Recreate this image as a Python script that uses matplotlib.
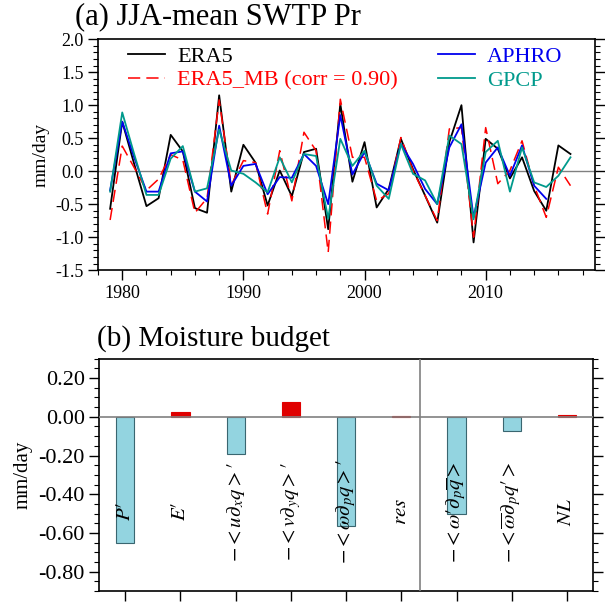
import numpy as np
import matplotlib
matplotlib.use("Agg")
import matplotlib.pyplot as plt
from matplotlib.ticker import MultipleLocator

plt.rcParams['font.family'] = ['Liberation Serif', 'DejaVu Serif']
plt.rcParams['mathtext.fontset'] = 'stix'

# ---- panel (a) data: JJA-mean SWTP precipitation anomaly (mm/day)
years = np.arange(1979, 2018)
era5 = [-0.57, 0.75, 0.10, -0.53, -0.41, 0.55, 0.30, -0.56, -0.63, 1.15,
        -0.31, 0.40, 0.13, -0.52, 0.01, -0.38, 0.29, 0.34, -0.88, 1.02,
        -0.16, 0.44, -0.55, -0.27, 0.49, 0.03, -0.37, -0.78, 0.44, 1.00,
        -1.08, 0.49, 0.34, -0.11, 0.21, -0.30, -0.60, 0.39, 0.26]
era5_mb = [-0.74, 0.38, 0.05, -0.29, -0.12, 0.25, 0.17, -0.63, -0.41, 1.08,
           -0.21, 0.16, 0.13, -0.65, 0.31, -0.45, 0.59, 0.31, -1.23, 1.09,
           0.21, 0.21, -0.45, -0.34, 0.51, 0.01, -0.37, -0.75, 0.64, 0.66,
           -1.00, 0.66, -0.19, 0.01, 0.46, -0.22, -0.70, 0.06, -0.22]
aphro_years = np.arange(1979, 2016)
aphro = [-0.29, 0.75, 0.20, -0.31, -0.31, 0.27, 0.30, -0.31, -0.46, 0.69,
         -0.22, 0.08, 0.11, -0.35, -0.09, -0.10, 0.26, 0.08, -0.50, 0.85,
         -0.05, 0.29, -0.19, -0.29, 0.41, 0.11, -0.27, -0.50, 0.36, 0.71,
         -0.70, 0.13, 0.36, -0.07, 0.39, -0.22, -0.42]
gpcp = [-0.31, 0.89, 0.25, -0.36, -0.36, 0.19, 0.38, -0.31, -0.26, 0.63,
        0.01, -0.04, -0.17, -0.32, 0.21, -0.17, 0.26, 0.23, -0.72, 0.49,
        0.08, 0.31, -0.22, -0.42, 0.41, -0.04, -0.14, -0.50, 0.54, 0.41,
        -0.73, 0.29, 0.46, -0.31, 0.36, -0.17, -0.24, -0.07, 0.21]

# ---- panel (b) data: moisture budget terms (mm/day)
terms = [r"$P′$", r"$E′$", r"$-<u\partial_x q>′$", r"$-<v\partial_y q>′$",
         r"$-<\omega\partial_p q>′$", r"$res$",
         r"$-<\omega′\partial_p \overline{q}>$",
         r"$-<\overline{\omega}\partial_p q′>$", r"$NL$"]
budget = [-0.65, 0.025, -0.19, 0.077, -0.565, 0.005, -0.50, -0.075, 0.012]

BLUE = '#0000ee'
TEAL = '#009a8c'

fig = plt.figure(figsize=(6.05, 6.03), dpi=100)

# ================= (a)
ax1 = fig.add_axes([0.162, 0.552, 0.821, 0.383])
ax1.axhline(0, color='gray', lw=1.0, zorder=1)
ax1.plot(years, era5, color='black', lw=1.3, label='ERA5')
ax1.plot(years, era5_mb, color='red', lw=1.1, ls=(0, (8, 4)),
         label='ERA5_MB (corr = 0.90)')
ax1.plot(aphro_years, aphro, color=BLUE, lw=1.3, label='APHRO')
ax1.plot(years, gpcp, color=TEAL, lw=1.3, label='GPCP')
ax1.set_xlim(1978, 2019)
ax1.set_ylim(-1.5, 2.0)
ax1.xaxis.set_major_locator(MultipleLocator(10))
ax1.xaxis.set_minor_locator(MultipleLocator(2))
yt = np.arange(-1.5, 2.01, 0.5)
ax1.set_yticks(yt)
ax1.set_yticklabels(['%.1f' % (round(v, 1) + 0.0) for v in yt])
ax1.yaxis.set_minor_locator(MultipleLocator(0.1))
ax1.tick_params(axis='both', which='major', direction='out', length=7,
                width=1.0, labelsize=13)
ax1.tick_params(axis='both', which='minor', direction='out', length=3.5,
                width=0.8)
ax1.tick_params(axis='y', which='both', right=True)
ax1.tick_params(axis='x', which='both', top=False)
ax1.set_ylabel('mm/day', fontsize=14, labelpad=4)
ax1.text(-0.047, 1.035, '(a) JJA-mean SWTP Pr', transform=ax1.transAxes,
         fontsize=22, ha='left', va='bottom')
h, l = ax1.get_legend_handles_labels()
leg_kw = dict(loc='upper left', frameon=False, fontsize=16, handlelength=1.67,
              handletextpad=0.54, labelspacing=0.15, borderaxespad=0.0,
              borderpad=0.0)
leg1 = ax1.legend(h[:2], l[:2], bbox_to_anchor=(0.06, 0.97), **leg_kw)
for t, c in zip(leg1.get_texts(), ['black', 'red']):
    t.set_color(c)
ax1.add_artist(leg1)
leg2 = ax1.legend(h[2:], l[2:], bbox_to_anchor=(0.684, 0.97), **leg_kw)
for t, c in zip(leg2.get_texts(), [BLUE, TEAL]):
    t.set_color(c)
for s in ax1.spines.values():
    s.set_linewidth(1.2)

# ================= (b)
ax2 = fig.add_axes([0.164, 0.020, 0.816, 0.385])
x = np.arange(len(terms))
colors = ['#93d4e0' if v < 0 else '#e00000' for v in budget]
edges = ['#3a6670' if v < 0 else '#e00000' for v in budget]
ax2.bar(x, budget, width=0.33, color=colors, edgecolor=edges, lw=0.8,
        zorder=2)
ax2.axhline(0, color='gray', lw=1.2, zorder=3)
ax2.axvline(5.33, color='gray', lw=1.2, zorder=3)
for xi, lab in zip(x, terms):
    ax2.text(xi, -0.49, lab, rotation=90, ha='center', va='center',
             fontsize=15, zorder=4)
ax2.set_xlim(-0.47, 8.47)
ax2.set_ylim(-0.9, 0.3)
ax2.set_xticks(x)
ax2.set_xticklabels([])
yt2 = np.arange(-0.8, 0.21, 0.2)
ax2.set_yticks(yt2)
ax2.set_yticklabels(['%.2f' % (round(v, 2) + 0.0) for v in yt2])
ax2.yaxis.set_minor_locator(MultipleLocator(0.05))
ax2.tick_params(axis='both', which='major', direction='out', length=7,
                width=1.0, labelsize=16)
ax2.tick_params(axis='y', which='minor', direction='out', length=3.5,
                width=0.8)
ax2.tick_params(axis='y', which='both', right=True)
ax2.set_ylabel('mm/day', fontsize=15, labelpad=4)
ax2.text(-0.005, 1.03, '(b) Moisture budget', transform=ax2.transAxes,
         fontsize=21, ha='left', va='bottom')
for s in ax2.spines.values():
    s.set_linewidth(1.2)

fig.savefig('out.png', dpi=100)
